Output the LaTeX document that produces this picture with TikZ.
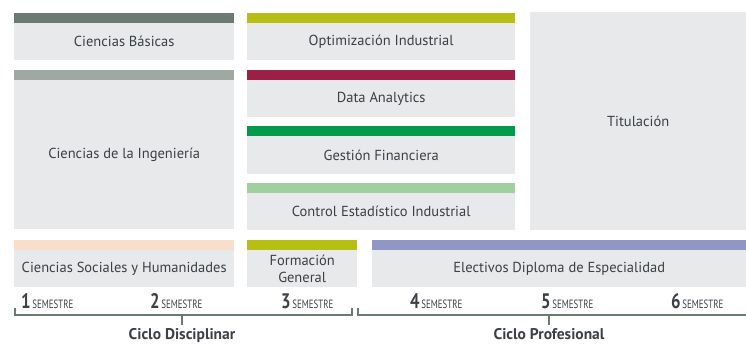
\documentclass[tikz,border=0pt]{standalone}
\usepackage{fontspec}
\setmainfont{PT Sans}
\usepackage{xcolor}
\usepackage{graphicx}
\usepackage{tikz}
\usetikzlibrary{positioning}
\definecolor{boxgray}{HTML}{E8E9EB}
\definecolor{txtgray}{HTML}{3B4045}
\definecolor{dkgreen}{HTML}{6B7A72}
\definecolor{ltgreen}{HTML}{A0A8A2}
\definecolor{olive}{HTML}{B8BF14}
\definecolor{crimson}{HTML}{9C2045}
\definecolor{green}{HTML}{009A4A}
\definecolor{mint}{HTML}{A0CFA0}
\definecolor{peach}{HTML}{F9DEC9}
\definecolor{lilac}{HTML}{9196C6}
\tikzset{
	area/.style={fill=boxgray, text=txtgray, anchor=north west, inner sep=0pt,
		font=\fontsize{14.5}{17}\selectfont, align=center},
	sem/.style={anchor=base west, text=txtgray, inner sep=0pt},
	brace/.style={dkgreen, line width=1.4pt},
	ciclo/.style={text=txtgray, anchor=base, inner sep=0pt, font=\bfseries\fontsize{15.5}{17}\selectfont}
}
\newcommand{\semlabel}[1]{\scalebox{0.8}[1]{\bfseries\fontsize{21}{21}\selectfont #1}\,\scalebox{0.74}[1]{\fontsize{12}{12}\selectfont SEMESTRE}}

\begin{document}
\begin{tikzpicture}[x=1pt,y=-1pt]
	\useasboundingbox (0,0) rectangle (746,343);

	% columna izquierda
	\fill[dkgreen] (14,13) rectangle (234,23);
	\node[area, minimum width=220, minimum height=37] (basicas) at (14,23) {Ciencias Básicas};
	\fill[ltgreen] (14,70) rectangle (234,80);
	\node[area, minimum width=220, minimum height=149] (ingenieria) at (14,80) {Ciencias de la Ingeniería};
	\fill[peach] (14,240) rectangle (234,250);
	\node[area, minimum width=220, minimum height=37] (sociales) at (14,250) {Ciencias Sociales y Humanidades};

	% columna central
	\fill[olive] (247,13) rectangle (515,23);
	\node[area, minimum width=268, minimum height=37] (optimizacion) at (247,23) {Optimización Industrial};
	\fill[crimson] (247,70) rectangle (515,80);
	\node[area, minimum width=268, minimum height=37] (data) at (247,80) {Data Analytics};
	\fill[green] (247,126) rectangle (515,136);
	\node[area, minimum width=268, minimum height=38] (gestion) at (247,136) {Gestión Financiera};
	\fill[mint] (247,183) rectangle (515,193);
	\node[area, minimum width=268, minimum height=37] (control) at (247,193) {Control Estadístico Industrial};
	\fill[olive] (247,240) rectangle (357,250);
	\node[area, minimum width=110, minimum height=37] (formacion) at (247,250) {Formación\\[-0.5pt]General};

	% columna derecha
	\node[area, minimum width=216, minimum height=218] (titulacion) at (530,12) {Titulación};
	\fill[lilac] (372,240) rectangle (746,250);
	\node[area, minimum width=374, minimum height=37] (electivos) at (372,250) {Electivos Diploma de Especialidad};

	% semestres
	\node[sem] (s1) at (21,308) {\semlabel{1}};
	\node[sem] (s2) at (150,308) {\semlabel{2}};
	\node[sem] (s3) at (281,308) {\semlabel{3}};
	\node[sem] (s4) at (410,308) {\semlabel{4}};
	\node[sem] (s5) at (541,308) {\semlabel{5}};
	\node[sem] (s6) at (671,308) {\semlabel{6}};

	% llaves de ciclo
	\coordinate (dA) at (15,308);
	\coordinate (dB) at (352,308);
	\coordinate (dC) at (182,325);
	\draw[brace] (dA) -- (dA |- 0,315) -- (dB |- 0,315) -- (dB);
	\draw[brace] (dC |- 0,315) -- (dC);
	\coordinate (pA) at (358,308);
	\coordinate (pB) at (746,315);
	\coordinate (pC) at (549,325);
	\draw[brace] (pA) -- (pA |- pB) -- (pB);
	\draw[brace] (pC |- pB) -- (pC);

	\node[ciclo] (disciplinar) at (182,339) {Ciclo Disciplinar};
	\node[ciclo] (profesional) at (549,339) {Ciclo Profesional};
\end{tikzpicture}
\end{document}
